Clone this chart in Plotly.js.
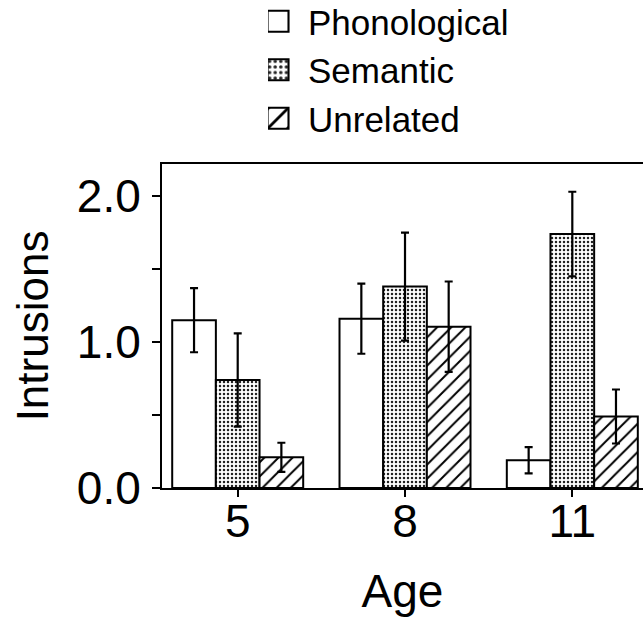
<!DOCTYPE html>
<html>
<head>
<meta charset="utf-8">
<script src="https://cdn.plot.ly/plotly-3.0.1.min.js"></script>
<style>
html,body{margin:0;padding:0;overflow:hidden;background:#fff;}
#chart{width:643px;height:617px;}
</style>
</head>
<body>
<div id="chart"></div>
<script>
// Data
var ages = ['5', '8', '11'];
var phonological = [1.15, 1.16, 0.19];
var phonologicalErr = [0.22, 0.24, 0.09];
var semantic = [0.74, 1.38, 1.74];
var semanticErr = [0.32, 0.37, 0.29];
var unrelated = [0.21, 1.105, 0.49];
var unrelatedErr = [0.10, 0.31, 0.185];
var yTickVals = [0, 0.5, 1, 1.5, 2];
var yTickText = ['0.0', '', '1.0', '', '2.0'];

var FONT = 'Liberation Sans, Arial, Helvetica, sans-serif';
function errStyle(arr) {
  return {type: 'data', array: arr, visible: true, color: '#000', thickness: 2.2, width: 4};
}
var lineStyle = {color: '#000', width: 2};

var traces = [
  {
    type: 'bar', name: 'Phonological', x: ages, y: phonological,
    error_y: errStyle(phonologicalErr),
    marker: {color: '#fff', line: lineStyle}
  },
  {
    type: 'bar', name: 'Semantic', x: ages, y: semantic,
    error_y: errStyle(semanticErr),
    marker: {color: '#fff', line: lineStyle,
      pattern: {shape: '.', fgcolor: '#222', bgcolor: '#fff', size: 4, solidity: 0.3}}
  },
  {
    type: 'bar', name: 'Unrelated', x: ages, y: unrelated,
    error_y: errStyle(unrelatedErr),
    marker: {color: '#fff', line: lineStyle,
      pattern: {shape: '/', fgcolor: '#000', bgcolor: '#fff', size: 10, solidity: 0.2}}
  }
];

var layout = {
  width: 643, height: 617,
  margin: {l: 162, r: 0, t: 164, b: 129, pad: 0, autoexpand: false},
  paper_bgcolor: '#fff', plot_bgcolor: '#fff',
  font: {family: FONT, color: '#000', size: 46},
  barmode: 'group', bargap: 0.217, bargroupgap: 0,
  showlegend: true,
  legend: {
    x: 0.2204, xanchor: 'left', xref: 'paper',
    y: 1.531, yanchor: 'top', yref: 'paper',
    font: {family: FONT, size: 35, color: '#000'},
    bgcolor: 'rgba(0,0,0,0)', borderwidth: 0,
    traceorder: 'normal', tracegroupgap: 0
  },
  xaxis: {
    type: 'category', range: [-0.4525, 2.4225],
    showline: true, linecolor: '#000', linewidth: 2, mirror: true,
    ticks: 'outside', ticklen: 7, tickwidth: 2, tickcolor: '#000',
    ticklabelstandoff: -15,
    showgrid: false, zeroline: false,
    tickfont: {family: FONT, size: 46},
    title: {text: 'Age', font: {family: FONT, size: 46}, standoff: 37}
  },
  yaxis: {
    range: [0, 2.22],
    tickvals: yTickVals, ticktext: yTickText,
    showline: true, linecolor: '#000', linewidth: 2, mirror: false,
    ticks: 'outside', ticklen: 8, tickwidth: 2, tickcolor: '#000',
    ticklabelstandoff: 2,
    showgrid: false, zeroline: false,
    tickfont: {family: FONT, size: 46},
    title: {text: 'Intrusions', font: {family: FONT, size: 44}, standoff: 14}
  }
};

Plotly.newPlot('chart', traces, layout, {displayModeBar: false, staticPlot: true}).then(function (gd) {
  // enlarge the legend swatches to match the reference's larger boxes
  var paths = gd.querySelectorAll('.legend .legendpoints path');
  paths.forEach(function (p) {
    p.setAttribute('transform', 'translate(10,0) scale(1.75)');
    p.style.strokeWidth = '1.2px';
  });
});
</script>
</body>
</html>
